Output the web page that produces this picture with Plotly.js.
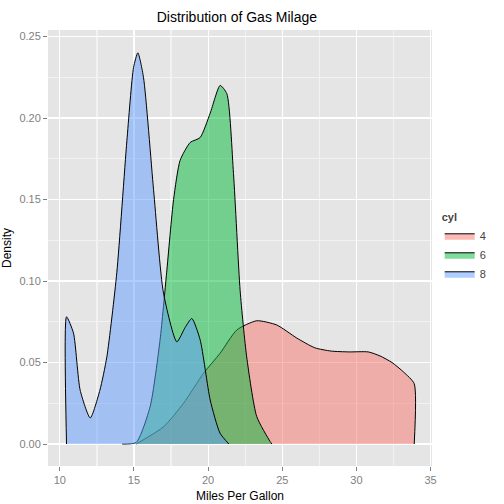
<!DOCTYPE html>
<html>
<head>
<script src="https://cdn.plot.ly/plotly-3.0.1.min.js"></script>
<style>body{margin:0}</style>
</head>
<body>
<div id="chart" style="width:504px;height:504px"></div>
<script>
// density estimates, one per cylinder group
var mpg4 = [15.15, 17.0, 18.34, 19.69, 20.81, 21.94, 23.28, 24.63, 25.98, 27.2, 28.3, 29.5, 30.8, 31.6, 32.4, 33.2, 33.9, 33.9];
var den4 = [0, 0.0106, 0.025, 0.0434, 0.0557, 0.070, 0.0756, 0.073, 0.065, 0.059, 0.057, 0.0565, 0.0565, 0.054, 0.050, 0.044, 0.037, 0];

var mpg6 = [14.2, 15.15, 16.09, 16.76, 17.2, 17.67, 18.11, 18.79, 19.46, 20.14, 20.81, 21.26, 21.71, 22.16, 22.6, 23.28, 24.18, 24.3];
var den6 = [0, 0.001, 0.023, 0.064, 0.105, 0.150, 0.174, 0.185, 0.188, 0.203, 0.220, 0.215, 0.166, 0.094, 0.0535, 0.0168, 0.0015, 0];

var mpg8 = [10.45, 10.45, 10.92, 11.37, 12.05, 12.7, 13.17, 13.84, 14.52, 14.97, 15.26, 15.64, 16.32, 16.99, 17.89, 18.45, 18.9, 19.46, 20.14, 20.8, 21.4];
var den8 = [0, 0.078, 0.068, 0.033, 0.016, 0.033, 0.0535, 0.105, 0.186, 0.231, 0.240, 0.225, 0.156, 0.0925, 0.0627, 0.0715, 0.077, 0.064, 0.027, 0.0067, 0];

var groups = ['4', '6', '8'];
var colors = ['rgba(248,118,109,0.5)', 'rgba(0,186,56,0.5)', 'rgba(97,156,255,0.5)'];
var xs = [mpg4, mpg6, mpg8];
var ys = [den4, den6, den8];

var data = [];
for (var i = 0; i < groups.length; i++) {
	data.push({
		x: xs[i],
		y: ys[i],
		type: 'scatter',
		mode: 'lines',
		fill: 'tozeroy',
		fillcolor: colors[i],
		line: {color: 'black', width: 1, shape: 'spline', smoothing: 0.6},
		name: groups[i]
	});
}

var layout = {
	width: 504,
	height: 504,
	margin: {t: 30, b: 38, l: 48, r: 72},
	paper_bgcolor: 'white',
	plot_bgcolor: '#E5E5E5',
	font: {family: 'Liberation Sans, Arial', size: 12},
	title: {text: 'Distribution of Gas Milage', font: {size: 14, color: 'black'}, x: 0.47, y: 0.975},
	xaxis: {
		title: {text: 'Miles Per Gallon', font: {size: 12, color: 'black'}, standoff: 6},
		range: [9.2, 35.1],
		tickvals: [10, 15, 20, 25, 30, 35],
		gridcolor: 'white', gridwidth: 1.2,
		minor: {showgrid: true, gridcolor: '#F2F2F2', dtick: 2.5},
		zeroline: false,
		ticks: 'outside', ticklen: 4, tickcolor: '#7F7F7F',
		tickfont: {color: '#7F7F7F', size: 11}
	},
	yaxis: {
		title: {text: 'Density', font: {size: 12, color: 'black'}, standoff: 6},
		range: [-0.0135, 0.254],
		tickvals: [0, 0.05, 0.1, 0.15, 0.2, 0.25],
		tickformat: '.2f',
		gridcolor: 'white', gridwidth: 1.2,
		minor: {showgrid: true, gridcolor: '#F2F2F2', dtick: 0.025},
		zeroline: false,
		ticks: 'outside', ticklen: 4, tickcolor: '#7F7F7F',
		tickfont: {color: '#7F7F7F', size: 11}
	},
	showlegend: true,
	legend: {
		x: 1.02, y: 0.5, yanchor: 'middle',
		title: {text: '<b>cyl</b>', font: {size: 11}},
		font: {size: 11},
		tracegroupgap: 0
	}
};

Plotly.newPlot('chart', data, layout, {staticPlot: true});
</script>
</body>
</html>
